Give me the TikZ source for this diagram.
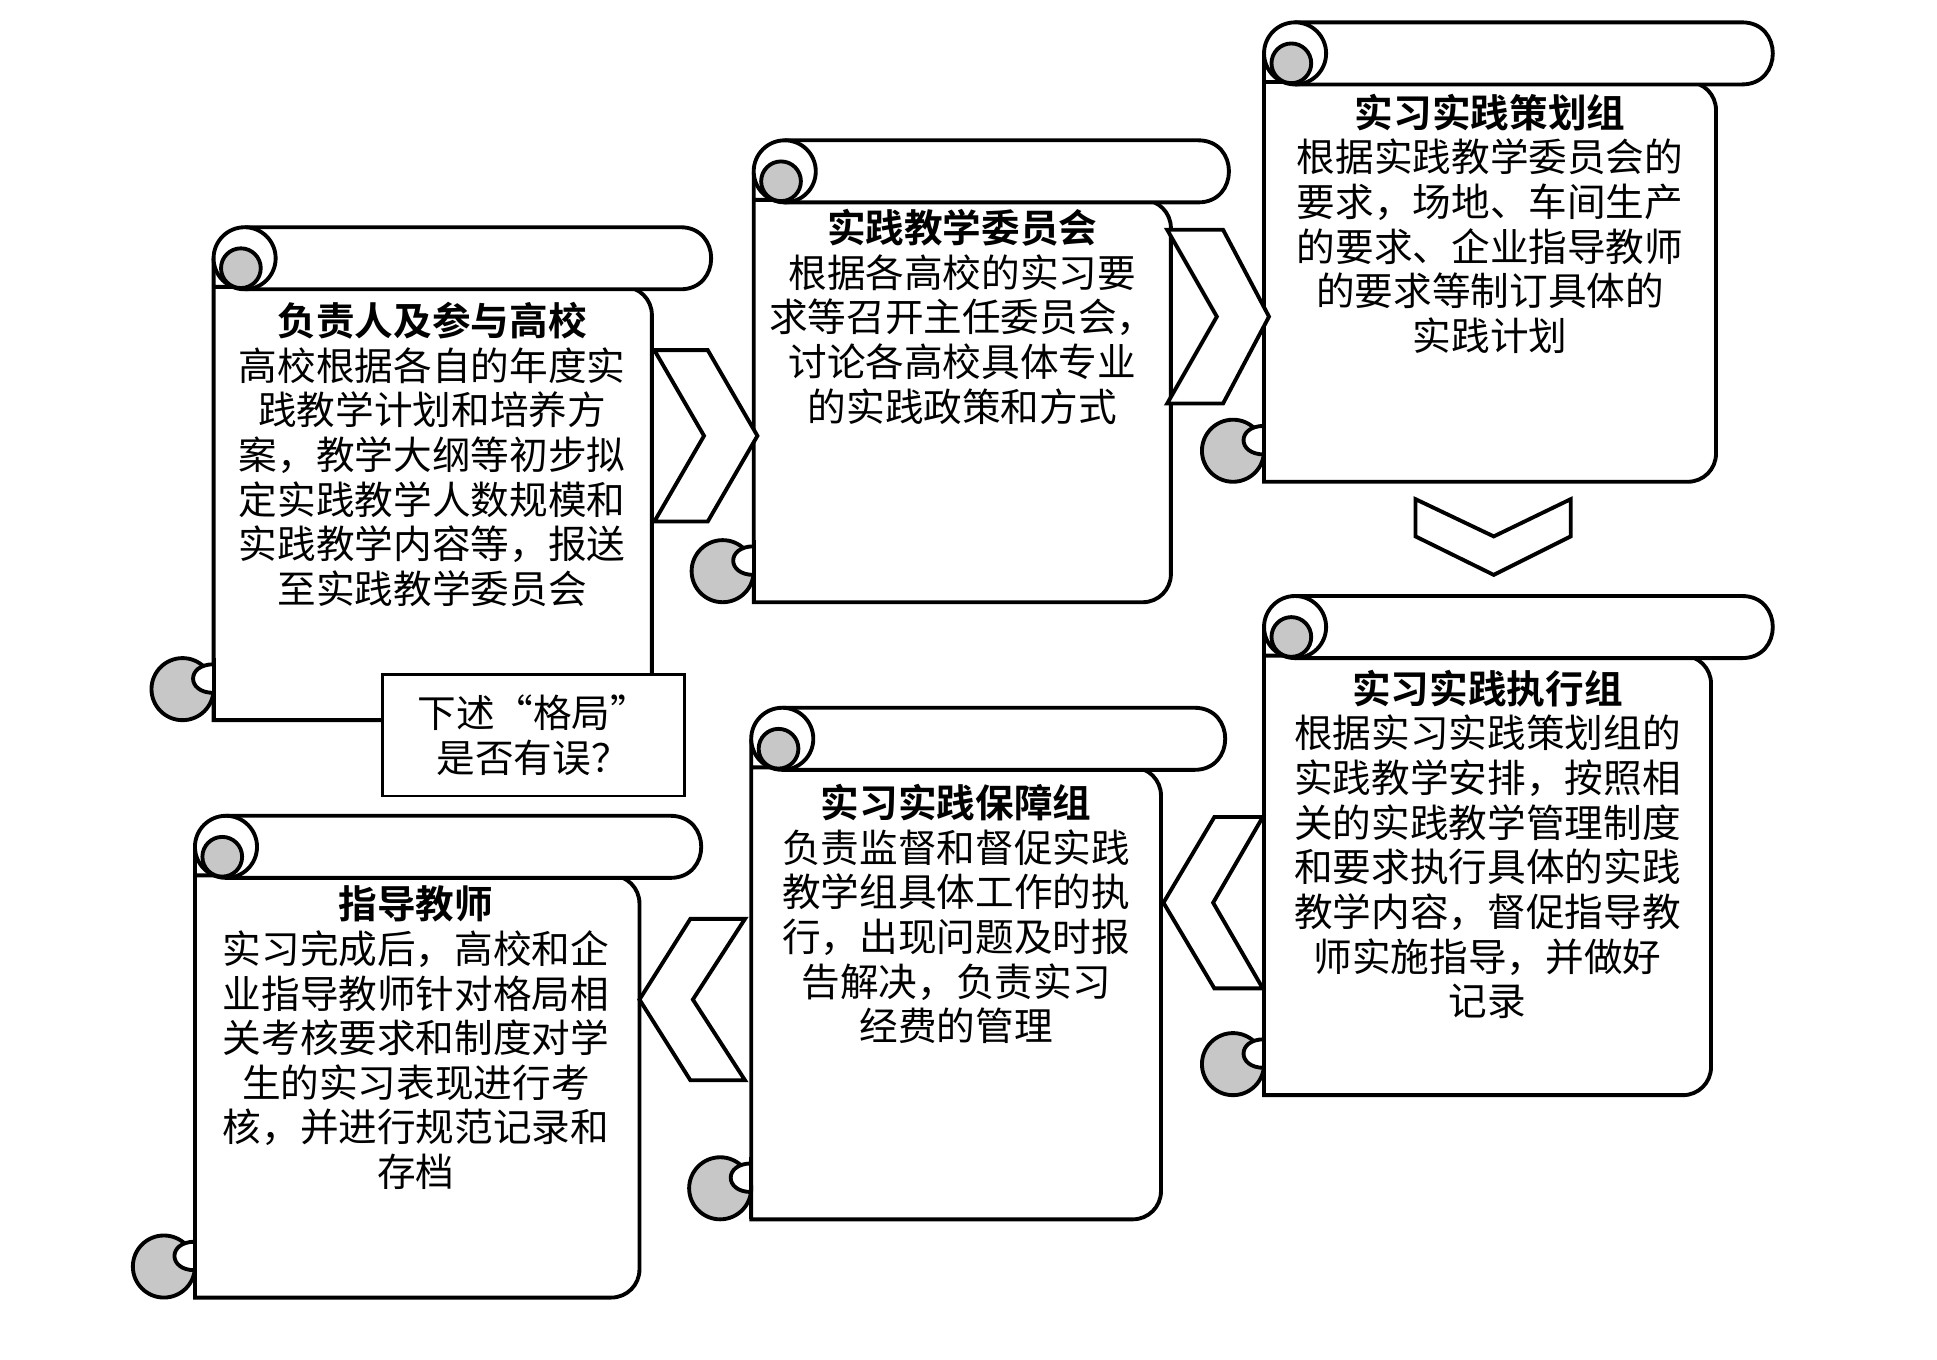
\documentclass[tikz,border=0pt]{standalone}
\usepackage{fontspec}
\newfontfamily\cjk{Noto Sans CJK SC}[BoldFont=* Bold]
\tikzset{
    sc/.style={draw=black, line width=1.1pt, fill=white},
    curl/.style={draw=black, line width=1.1pt, fill=black!22},
    chev/.style={draw=black, line width=1.1pt, fill=white},
    txt/.style={font=\cjk\fontsize{11}{12.7}\selectfont, align=center, anchor=north, inner sep=0pt},
    note/.style={draw=black, line width=0.8pt, fill=white, font=\cjk\fontsize{11}{12.7}\selectfont, align=center}
}
% scroll: left, top, body right, bar right, bottom
\newcommand\scrollbox[5]{%
  \draw[sc] (#1,#2+25) -- (#1,#5) [rounded corners=8pt] -- (#3,#5) -- (#3,#2+48) [sharp corners] -- (#1,#2+48) -- cycle;
  \draw[sc] (#1+25,#2) -- (#4-25,#2) .. controls (#4+8,#2) and (#4+8,#2+50) .. (#4-25,#2+50) -- (#1+25,#2+50);
  \draw[sc] (#1+25,#2+25) circle[radius=25];
  \draw[curl] (#1+22,#2+33) circle[radius=16];
  \draw[curl] (#1-25,#5-25) circle[radius=25];
  \draw[sc] (#1,#5-45) .. controls (#1-22,#5-45) and (#1-22,#5-22) .. (#1,#5-22);
  \draw[line width=1.1pt] (#1,#5-50) -- (#1,#5);
}
\begin{document}
\begin{tikzpicture}[x=0.012417cm, y=-0.012417cm]
  \useasboundingbox[fill=white] (0,0) rectangle (1560,1095);
  % scrolls
  \scrollbox{172}{183}{525}{573}{580}
  \scrollbox{607}{113}{943}{990}{485}
  \scrollbox{1018}{18}{1382}{1428}{388}
  \scrollbox{1018}{480}{1378}{1428}{882}
  \scrollbox{605}{570}{935}{987}{982}
  \scrollbox{157}{657}{515}{565}{1045}
  % chevrons
  \draw[chev] (527,282) -- (570,282) -- (610,351) -- (570,420) -- (527,420) -- (567,351) -- cycle;
  \draw[chev] (940,185) -- (985,185) -- (1022,255) -- (985,325) -- (940,325) -- (980,255) -- cycle;
  \draw[chev] (1140,402) -- (1203,432) -- (1265,402) -- (1265,432) -- (1203,463) -- (1140,432) -- cycle;
  \draw[chev] (1017,658) -- (978,658) -- (937,727) -- (978,796) -- (1017,796) -- (977,727) -- cycle;
  \draw[chev] (600,740) -- (556,740) -- (515,805) -- (556,870) -- (600,870) -- (558,805) -- cycle;
  % texts
  \node[txt] (lead) at (348,243) {\textbf{负责人及参与高校}\\高校根据各自的年度实\\践教学计划和培养方\\案，教学大纲等初步拟\\定实践教学人数规模和\\实践教学内容等，报送\\至实践教学委员会};
  \node[txt] (committee) at (775,168) {\textbf{实践教学委员会}\\根据各高校的实习要\\求等召开主任委员会，\\讨论各高校具体专业\\的实践政策和方式};
  \node[txt] (plan) at (1200,75) {\textbf{实习实践策划组}\\根据实践教学委员会的\\要求，场地、车间生产\\的要求、企业指导教师\\的要求等制订具体的\\实践计划};
  \node[txt] (exec) at (1198,539) {\textbf{实习实践执行组}\\根据实习实践策划组的\\实践教学安排，按照相\\关的实践教学管理制度\\和要求执行具体的实践\\教学内容，督促指导教\\师实施指导，并做好\\记录};
  \node[txt] (support) at (770,631) {\textbf{实习实践保障组}\\负责监督和督促实践\\教学组具体工作的执\\行，出现问题及时报\\告解决，负责实习\\经费的管理};
  \node[txt] (tutor) at (335,713) {\textbf{指导教师}\\实习完成后，高校和企\\业指导教师针对格局相\\关考核要求和制度对学\\生的实习表现进行考\\核，并进行规范记录和\\存档};
  \node[note, minimum width=243*0.012417cm, minimum height=98*0.012417cm] (query) at (429.5,592) {下述“格局”\\是否有误？};
\end{tikzpicture}
\end{document}
